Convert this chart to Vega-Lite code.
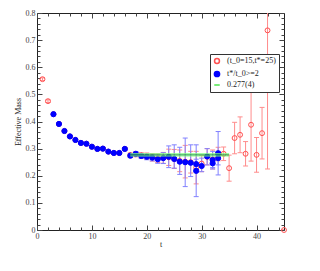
{
  "$schema": "https://vega.github.io/schema/vega-lite/v6.json",
  "autosize": {"type": "none"},
  "width": 247,
  "height": 217,
  "padding": {"left": 37, "top": 13, "right": 36, "bottom": 41},
  "background": "#ffffff",
  "config": {
    "view": {"stroke": "#222", "strokeWidth": 1},
    "axis": {"domain": false, "grid": false, "labelFont": "Liberation Serif", "labelFontSize": 8, "labelColor": "#444", "titleFont": "Liberation Serif", "titleFontSize": 8, "titleFontWeight": "normal", "titleColor": "#222", "tickColor": "#444", "labelFlush": false, "labelOverlap": false}
  },
  "datasets": {
    "pts": [
      {"s": "(t_0=15,t*=25)", "t": 1, "v": 0.556, "lo": 0.551, "hi": 0.561},
      {"s": "(t_0=15,t*=25)", "t": 2, "v": 0.475, "lo": 0.470, "hi": 0.480},
      {"s": "(t_0=15,t*=25)", "t": 3, "v": 0.427, "lo": 0.424, "hi": 0.430},
      {"s": "(t_0=15,t*=25)", "t": 4, "v": 0.391, "lo": 0.388, "hi": 0.394},
      {"s": "(t_0=15,t*=25)", "t": 5, "v": 0.365, "lo": 0.362, "hi": 0.368},
      {"s": "(t_0=15,t*=25)", "t": 6, "v": 0.345, "lo": 0.342, "hi": 0.348},
      {"s": "(t_0=15,t*=25)", "t": 7, "v": 0.332, "lo": 0.329, "hi": 0.335},
      {"s": "(t_0=15,t*=25)", "t": 8, "v": 0.321, "lo": 0.318, "hi": 0.324},
      {"s": "(t_0=15,t*=25)", "t": 9, "v": 0.318, "lo": 0.315, "hi": 0.321},
      {"s": "(t_0=15,t*=25)", "t": 10, "v": 0.307, "lo": 0.304, "hi": 0.310},
      {"s": "(t_0=15,t*=25)", "t": 11, "v": 0.299, "lo": 0.296, "hi": 0.302},
      {"s": "(t_0=15,t*=25)", "t": 12, "v": 0.300, "lo": 0.296, "hi": 0.304},
      {"s": "(t_0=15,t*=25)", "t": 13, "v": 0.289, "lo": 0.285, "hi": 0.293},
      {"s": "(t_0=15,t*=25)", "t": 14, "v": 0.284, "lo": 0.280, "hi": 0.288},
      {"s": "(t_0=15,t*=25)", "t": 15, "v": 0.284, "lo": 0.280, "hi": 0.288},
      {"s": "(t_0=15,t*=25)", "t": 16, "v": 0.299, "lo": 0.294, "hi": 0.304},
      {"s": "(t_0=15,t*=25)", "t": 17, "v": 0.276, "lo": 0.268, "hi": 0.284},
      {"s": "(t_0=15,t*=25)", "t": 18, "v": 0.279, "lo": 0.270, "hi": 0.288},
      {"s": "(t_0=15,t*=25)", "t": 19, "v": 0.275, "lo": 0.265, "hi": 0.285},
      {"s": "(t_0=15,t*=25)", "t": 20, "v": 0.272, "lo": 0.260, "hi": 0.284},
      {"s": "(t_0=15,t*=25)", "t": 21, "v": 0.268, "lo": 0.254, "hi": 0.282},
      {"s": "(t_0=15,t*=25)", "t": 22, "v": 0.265, "lo": 0.249, "hi": 0.281},
      {"s": "(t_0=15,t*=25)", "t": 23, "v": 0.266, "lo": 0.246, "hi": 0.286},
      {"s": "(t_0=15,t*=25)", "t": 24, "v": 0.268, "lo": 0.238, "hi": 0.298},
      {"s": "(t_0=15,t*=25)", "t": 25, "v": 0.262, "lo": 0.227, "hi": 0.297},
      {"s": "(t_0=15,t*=25)", "t": 26, "v": 0.255, "lo": 0.215, "hi": 0.295},
      {"s": "(t_0=15,t*=25)", "t": 27, "v": 0.252, "lo": 0.192, "hi": 0.312},
      {"s": "(t_0=15,t*=25)", "t": 28, "v": 0.250, "lo": 0.210, "hi": 0.290},
      {"s": "(t_0=15,t*=25)", "t": 29, "v": 0.230, "lo": 0.170, "hi": 0.290},
      {"s": "(t_0=15,t*=25)", "t": 30, "v": 0.245, "lo": 0.215, "hi": 0.275},
      {"s": "(t_0=15,t*=25)", "t": 31, "v": 0.270, "lo": 0.240, "hi": 0.300},
      {"s": "(t_0=15,t*=25)", "t": 32, "v": 0.260, "lo": 0.225, "hi": 0.295},
      {"s": "(t_0=15,t*=25)", "t": 33, "v": 0.280, "lo": 0.255, "hi": 0.305},
      {"s": "(t_0=15,t*=25)", "t": 34, "v": 0.281, "lo": 0.256, "hi": 0.306},
      {"s": "(t_0=15,t*=25)", "t": 35, "v": 0.228, "lo": 0.180, "hi": 0.276},
      {"s": "(t_0=15,t*=25)", "t": 36, "v": 0.339, "lo": 0.281, "hi": 0.397},
      {"s": "(t_0=15,t*=25)", "t": 37, "v": 0.351, "lo": 0.285, "hi": 0.417},
      {"s": "(t_0=15,t*=25)", "t": 38, "v": 0.281, "lo": 0.236, "hi": 0.326},
      {"s": "(t_0=15,t*=25)", "t": 39, "v": 0.388, "lo": 0.254, "hi": 0.522},
      {"s": "(t_0=15,t*=25)", "t": 40, "v": 0.277, "lo": 0.213, "hi": 0.341},
      {"s": "(t_0=15,t*=25)", "t": 41, "v": 0.357, "lo": 0.262, "hi": 0.452},
      {"s": "(t_0=15,t*=25)", "t": 42, "v": 0.736, "lo": 0.225, "hi": 1.247},
      {"s": "(t_0=15,t*=25)", "t": 45, "v": 0.0, "lo": 0.0, "hi": 0.0},
      {"s": "t*/t_0>=2", "t": 3, "v": 0.427, "lo": 0.425, "hi": 0.429},
      {"s": "t*/t_0>=2", "t": 4, "v": 0.391, "lo": 0.389, "hi": 0.393},
      {"s": "t*/t_0>=2", "t": 5, "v": 0.365, "lo": 0.363, "hi": 0.367},
      {"s": "t*/t_0>=2", "t": 6, "v": 0.345, "lo": 0.343, "hi": 0.347},
      {"s": "t*/t_0>=2", "t": 7, "v": 0.332, "lo": 0.330, "hi": 0.334},
      {"s": "t*/t_0>=2", "t": 8, "v": 0.321, "lo": 0.319, "hi": 0.323},
      {"s": "t*/t_0>=2", "t": 9, "v": 0.318, "lo": 0.316, "hi": 0.320},
      {"s": "t*/t_0>=2", "t": 10, "v": 0.307, "lo": 0.305, "hi": 0.309},
      {"s": "t*/t_0>=2", "t": 11, "v": 0.299, "lo": 0.297, "hi": 0.301},
      {"s": "t*/t_0>=2", "t": 12, "v": 0.300, "lo": 0.297, "hi": 0.303},
      {"s": "t*/t_0>=2", "t": 13, "v": 0.289, "lo": 0.286, "hi": 0.292},
      {"s": "t*/t_0>=2", "t": 14, "v": 0.284, "lo": 0.281, "hi": 0.287},
      {"s": "t*/t_0>=2", "t": 15, "v": 0.284, "lo": 0.281, "hi": 0.287},
      {"s": "t*/t_0>=2", "t": 16, "v": 0.299, "lo": 0.295, "hi": 0.303},
      {"s": "t*/t_0>=2", "t": 17, "v": 0.274, "lo": 0.267, "hi": 0.281},
      {"s": "t*/t_0>=2", "t": 18, "v": 0.281, "lo": 0.273, "hi": 0.289},
      {"s": "t*/t_0>=2", "t": 19, "v": 0.273, "lo": 0.264, "hi": 0.282},
      {"s": "t*/t_0>=2", "t": 20, "v": 0.270, "lo": 0.259, "hi": 0.281},
      {"s": "t*/t_0>=2", "t": 21, "v": 0.267, "lo": 0.255, "hi": 0.279},
      {"s": "t*/t_0>=2", "t": 22, "v": 0.261, "lo": 0.246, "hi": 0.276},
      {"s": "t*/t_0>=2", "t": 23, "v": 0.265, "lo": 0.245, "hi": 0.285},
      {"s": "t*/t_0>=2", "t": 24, "v": 0.270, "lo": 0.230, "hi": 0.310},
      {"s": "t*/t_0>=2", "t": 25, "v": 0.262, "lo": 0.228, "hi": 0.314},
      {"s": "t*/t_0>=2", "t": 26, "v": 0.252, "lo": 0.205, "hi": 0.305},
      {"s": "t*/t_0>=2", "t": 27, "v": 0.250, "lo": 0.160, "hi": 0.339},
      {"s": "t*/t_0>=2", "t": 28, "v": 0.248, "lo": 0.197, "hi": 0.314},
      {"s": "t*/t_0>=2", "t": 29, "v": 0.218, "lo": 0.123, "hi": 0.314},
      {"s": "t*/t_0>=2", "t": 29, "v": 0.243, "lo": 0.225, "hi": 0.261},
      {"s": "t*/t_0>=2", "t": 30, "v": 0.236, "lo": 0.215, "hi": 0.265},
      {"s": "t*/t_0>=2", "t": 31, "v": 0.271, "lo": 0.240, "hi": 0.300},
      {"s": "t*/t_0>=2", "t": 32, "v": 0.258, "lo": 0.230, "hi": 0.290},
      {"s": "t*/t_0>=2", "t": 32, "v": 0.246, "lo": 0.225, "hi": 0.268},
      {"s": "t*/t_0>=2", "t": 33, "v": 0.283, "lo": 0.203, "hi": 0.363},
      {"s": "t*/t_0>=2", "t": 33, "v": 0.265, "lo": 0.240, "hi": 0.290}
    ],
    "fit": [
      {"from": 17, "to": 35, "v": 0.277, "lo": 0.273, "hi": 0.281}
    ]
  },
  "data": {"name": "pts"},
  "resolve": {"axis": {"x": "independent", "y": "independent"}},
  "layer": [
    {
      "transform": [{"filter": "datum.s === '(t_0=15,t*=25)'"}],
      "mark": {"type": "rule", "color": "#ff8c8c", "strokeWidth": 1, "clip": true},
      "encoding": {
        "x": {"field": "t", "type": "quantitative", "scale": {"domain": [0, 45], "nice": false, "zero": false},
          "axis": {"orient": "bottom", "values": [0, 10, 20, 30, 40], "tickSize": -5, "labelPadding": 7, "title": "t", "titlePadding": 0, "labelExpr": "format(datum.value, 'd')"}},
        "y": {"field": "lo", "type": "quantitative", "scale": {"domain": [0, 0.8], "nice": false},
          "axis": {"orient": "left", "values": [0, 0.1, 0.2, 0.3, 0.4, 0.5, 0.6, 0.7, 0.8], "tickSize": -5, "labelPadding": 7, "title": "Effective Mass", "titlePadding": 3, "labelExpr": "datum.value === 0 ? '0' : format(datum.value, '.1f')"}},
        "y2": {"field": "hi"}
      }
    },
    {
      "transform": [{"filter": "datum.s === '(t_0=15,t*=25)'"}, {"fold": ["lo", "hi"], "as": ["k", "val"]}],
      "mark": {"type": "tick", "orient": "horizontal", "color": "#ff8c8c", "size": 5, "thickness": 1, "opacity": 1, "clip": true},
      "encoding": {
        "x": {"field": "t", "type": "quantitative",
          "axis": {"orient": "bottom", "values": [2, 4, 6, 8, 12, 14, 16, 18, 22, 24, 26, 28, 32, 34, 36, 38, 42, 44], "tickSize": -3, "labels": false, "title": null}},
        "y": {"field": "val", "type": "quantitative",
          "axis": {"orient": "left", "values": [0.02, 0.04, 0.06, 0.08, 0.12, 0.14, 0.16, 0.18, 0.22, 0.24, 0.26, 0.28, 0.32, 0.34, 0.36, 0.38, 0.42, 0.44, 0.46, 0.48, 0.52, 0.54, 0.56, 0.58, 0.62, 0.64, 0.66, 0.68, 0.72, 0.74, 0.76, 0.78], "tickSize": -3, "labels": false, "title": null}}
      }
    },
    {
      "transform": [{"filter": "datum.s === 't*/t_0>=2'"}],
      "mark": {"type": "rule", "color": "#8080ff", "strokeWidth": 1, "clip": true},
      "encoding": {
        "x": {"field": "t", "type": "quantitative",
          "axis": {"orient": "top", "values": [0, 10, 20, 30, 40], "tickSize": -5, "labels": false, "title": null}},
        "y": {"field": "lo", "type": "quantitative",
          "axis": {"orient": "right", "values": [0, 0.1, 0.2, 0.3, 0.4, 0.5, 0.6, 0.7, 0.8], "tickSize": -5, "labels": false, "title": null}},
        "y2": {"field": "hi"}
      }
    },
    {
      "transform": [{"filter": "datum.s === 't*/t_0>=2'"}, {"fold": ["lo", "hi"], "as": ["k", "val"]}],
      "mark": {"type": "tick", "orient": "horizontal", "color": "#8080ff", "size": 5, "thickness": 1, "opacity": 1, "clip": true},
      "encoding": {
        "x": {"field": "t", "type": "quantitative",
          "axis": {"orient": "top", "values": [2, 4, 6, 8, 12, 14, 16, 18, 22, 24, 26, 28, 32, 34, 36, 38, 42, 44], "tickSize": -3, "labels": false, "title": null}},
        "y": {"field": "val", "type": "quantitative",
          "axis": {"orient": "right", "values": [0.02, 0.04, 0.06, 0.08, 0.12, 0.14, 0.16, 0.18, 0.22, 0.24, 0.26, 0.28, 0.32, 0.34, 0.36, 0.38, 0.42, 0.44, 0.46, 0.48, 0.52, 0.54, 0.56, 0.58, 0.62, 0.64, 0.66, 0.68, 0.72, 0.74, 0.76, 0.78], "tickSize": -3, "labels": false, "title": null}}
      }
    },
    {
      "mark": {"type": "point", "opacity": 1, "strokeWidth": 1},
      "encoding": {
        "x": {"field": "t", "type": "quantitative", "axis": null},
        "y": {"field": "v", "type": "quantitative", "axis": null},
        "stroke": {"field": "s", "type": "nominal",
          "scale": {"domain": ["(t_0=15,t*=25)", "t*/t_0>=2", "0.277(4)"], "range": ["#ff5050", "#0000ff", "#4ee64e"]},
          "legend": {"title": null, "orient": "none", "legendX": 173, "legendY": 41, "padding": 3, "strokeColor": "#333", "fillColor": "#ffffff", "cornerRadius": 0, "labelFont": "Liberation Serif", "labelFontSize": 8, "labelColor": "#222", "rowPadding": 1, "symbolStrokeWidth": 1.5, "labelOffset": 6, "symbolOpacity": 1}},
        "fill": {"field": "s", "type": "nominal",
          "scale": {"domain": ["(t_0=15,t*=25)", "t*/t_0>=2", "0.277(4)"], "range": ["transparent", "#0000ff", "transparent"]}},
        "shape": {"field": "s", "type": "nominal",
          "scale": {"domain": ["(t_0=15,t*=25)", "t*/t_0>=2", "0.277(4)"], "range": ["circle", "circle", "stroke"]}},
        "size": {"field": "s", "type": "ordinal",
          "scale": {"domain": ["(t_0=15,t*=25)", "t*/t_0>=2", "0.277(4)"], "range": [24, 30, 64]}}
      }
    },
    {
      "data": {"name": "fit"},
      "mark": {"type": "rule", "color": "#80ff80", "strokeWidth": 1},
      "encoding": {
        "x": {"field": "from", "type": "quantitative", "axis": null},
        "x2": {"field": "to"},
        "y": {"field": "lo", "type": "quantitative", "axis": null}
      }
    },
    {
      "data": {"name": "fit"},
      "mark": {"type": "rule", "color": "#80ff80", "strokeWidth": 1},
      "encoding": {
        "x": {"field": "from", "type": "quantitative", "axis": null},
        "x2": {"field": "to"},
        "y": {"field": "hi", "type": "quantitative", "axis": null}
      }
    },
    {
      "data": {"name": "fit"},
      "mark": {"type": "rule", "color": "#20a040", "strokeWidth": 1},
      "encoding": {
        "x": {"field": "from", "type": "quantitative", "axis": null},
        "x2": {"field": "to"},
        "y": {"field": "v", "type": "quantitative", "axis": null}
      }
    }
  ]
}
